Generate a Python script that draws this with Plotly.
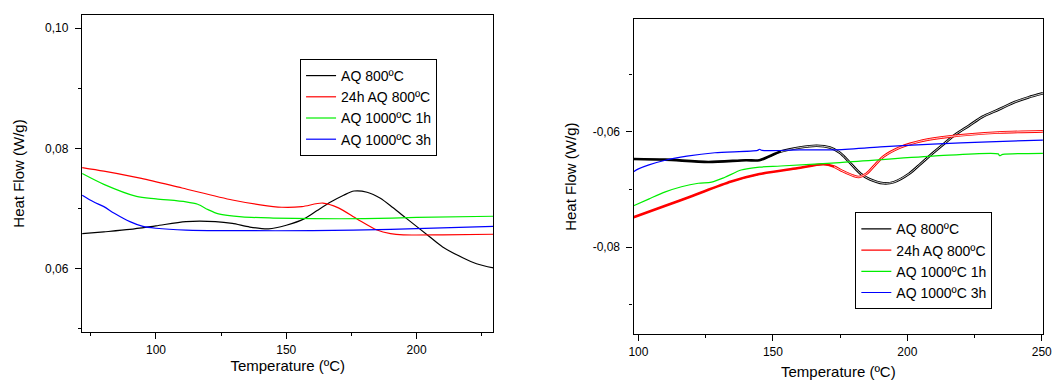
import plotly.graph_objects as go

# ---------------- data: left panel ----------------
L_black_T = [71.7, 80, 90, 100, 111.5, 122.8, 129.3, 136, 143.2, 150, 157, 162, 167.2, 172, 176, 181,
             186.1, 191, 196.2, 205, 210, 217.7, 223, 229.5]
L_black_V = [0.0658, 0.0661, 0.0665, 0.0671, 0.0678, 0.0678, 0.0675, 0.0669, 0.0666, 0.0672, 0.0683,
             0.0697, 0.0711, 0.0722, 0.0729, 0.0727, 0.0717, 0.0701, 0.0683, 0.0653, 0.0636, 0.0618,
             0.0608, 0.0601]

L_red_T = [71.7, 80, 94.4, 110, 129.3, 140, 148.3, 156, 164, 170, 177.3, 184.8, 190, 194.9, 210, 229.5]
L_red_V = [0.0768, 0.0762, 0.0750, 0.0734, 0.0714, 0.0706, 0.0702, 0.0703, 0.0709, 0.0701, 0.0682,
           0.0664, 0.0658, 0.0656, 0.0656, 0.0657]

L_green_T = [71.7, 80, 92.5, 100, 111.5, 116, 120, 124, 133, 145, 160, 180, 200, 229.5]
L_green_V = [0.0758, 0.0740, 0.0720, 0.0716, 0.0711, 0.0707, 0.0698, 0.0691, 0.0686, 0.0684, 0.0683,
             0.0683, 0.0685, 0.0687]

L_blue_T = [71.7, 76, 80, 84, 90, 95, 100, 111.5, 130, 160, 190, 229.5]
L_blue_V = [0.0722, 0.0711, 0.0703, 0.0692, 0.0678, 0.0670, 0.0667, 0.0664, 0.0663, 0.0663, 0.0665, 0.0670]

# ---------------- data: right panel ----------------
R_black_T = [98.2, 110, 126, 140, 145, 152.9, 160, 166.3, 171.2, 174.9, 178, 182.5, 186, 191, 195,
             200.8, 205, 209.4, 214, 218, 223, 227.8, 234, 240, 245, 250.4]
R_black_V = [-0.0647, -0.0648, -0.0652, -0.0649, -0.0649, -0.0634, -0.0627, -0.0624, -0.0627, -0.0636,
             -0.0650, -0.0672, -0.0682, -0.0689, -0.0687, -0.0672, -0.0655, -0.0637, -0.0619, -0.0604,
             -0.0589, -0.0574, -0.0561, -0.0548, -0.0540, -0.0533]

R_red_T = [98.2, 110, 120, 134.5, 145, 159, 168.8, 172.7, 176, 180, 182, 184.9, 188, 191, 197.2, 205.7,
           215.5, 233.9, 250.4]
R_red_V = [-0.0748, -0.0728, -0.0711, -0.0686, -0.0673, -0.0663, -0.0656, -0.0660, -0.0668, -0.0676,
           -0.0678, -0.0672, -0.0657, -0.0643, -0.0627, -0.0615, -0.0608, -0.0601, -0.0599]

R_green_T = [98.2, 104, 110, 116, 122.3, 127.2, 132, 138.2, 145, 152.9, 174.9, 209.4, 233.8, 234.3,
             235.5, 250.4]
R_green_V = [-0.0728, -0.0716, -0.0704, -0.0695, -0.0689, -0.0687, -0.0679, -0.0666, -0.0661, -0.0659,
             -0.0653, -0.0642, -0.0638, -0.0641, -0.0639, -0.0637]

R_blue_T = [98.2, 100, 103.9, 110, 118, 128.4, 144.3, 145, 146, 160, 172.7, 190, 209.4, 230.2, 250.4]
R_blue_V = [-0.0669, -0.0664, -0.0657, -0.0649, -0.0642, -0.0636, -0.0632, -0.0630, -0.0632, -0.0631,
            -0.0631, -0.0626, -0.0621, -0.0617, -0.0614]

series_names = ["AQ 800ºC", "24h AQ 800ºC", "AQ 1000ºC 1h", "AQ 1000ºC 3h"]
series_colors = ["#000000", "#ff0000", "#00ee00", "#0000ff"]

L_ytickvals = [0.06, 0.08, 0.10]
L_yticktext = ["0,06", "0,08", "0,10"]
R_ytickvals = [-0.08, -0.06]
R_yticktext = ["-0,08", "-0,06"]
L_xtickvals = [100, 150, 200]
R_xtickvals = [100, 150, 200, 250]

FONT = "Liberation Sans, Arial, sans-serif"
SPL = dict(shape="spline", smoothing=0.8)

fig = go.Figure()

left = [(L_black_T, L_black_V), (L_red_T, L_red_V), (L_green_T, L_green_V), (L_blue_T, L_blue_V)]
right = [(R_black_T, R_black_V), (R_red_T, R_red_V), (R_green_T, R_green_V), (R_blue_T, R_blue_V)]

for (t, v), name, col in zip(left, series_names, series_colors):
    fig.add_trace(go.Scatter(x=t, y=v, mode="lines", name=name, line=dict(color=col, width=1.2, **SPL),
                             xaxis="x", yaxis="y", legend="legend"))

# right panel: black and red were recorded twice (double trace look)
split_T = [150, 172]
for i, ((t, v), name, col) in enumerate(zip(right, series_names, series_colors)):
    if i < 2:
        fig.add_trace(go.Scatter(x=t, y=v, mode="lines", showlegend=False, hoverinfo="skip",
                                 line=dict(color=col, width=2.6, **SPL), xaxis="x2", yaxis="y2"))
        tt = [a for a in t if a >= split_T[i]]
        vv = [b for a, b in zip(t, v) if a >= split_T[i]]
        fig.add_trace(go.Scatter(x=tt, y=vv, mode="lines", showlegend=False, hoverinfo="skip",
                                 line=dict(color="white", width=0.8, **SPL), xaxis="x2", yaxis="y2"))
        ts = [a for a in t if a <= split_T[i] + 3]
        vs = [b for a, b in zip(t, v) if a <= split_T[i] + 3]
        fig.add_trace(go.Scatter(x=ts, y=vs, mode="lines", name=name, line=dict(color=col, width=1.2, **SPL),
                                 xaxis="x2", yaxis="y2", legend="legend2"))
    else:
        fig.add_trace(go.Scatter(x=t, y=v, mode="lines", name=name, line=dict(color=col, width=1.2, **SPL),
                                 xaxis="x2", yaxis="y2", legend="legend2"))

ax_common = dict(showline=True, linecolor="black", linewidth=1.3, mirror=True, showgrid=False, zeroline=False,
                 ticks="outside", ticklen=6, tickwidth=1.2, tickcolor="black",
                 tickfont=dict(family=FONT, size=12, color="black"))
title_font = dict(family=FONT, size=15, color="black")

L_xrange = [71.6, 229.5]
L_yrange = [0.04943, 0.1022]
R_xrange = [98.2, 250.5]
R_yrange = [-0.0951, -0.0404]

Ldx = [78 / 1062, 495 / 1062]
Ldy = [1 - 332 / 380, 1 - 15 / 380]
Rdx = [637 / 1062, 1052 / 1062]
Rdy = [1 - 334.3 / 380, 1 - 19 / 380]

minor_x = dict(dtick=25, ticks="outside", ticklen=3, tickcolor="black", tickwidth=1.2)
minor_y = dict(dtick=0.01, ticks="outside", ticklen=3, tickcolor="black", tickwidth=1.2)
minor_xi = dict(dtick=25, ticks="inside", ticklen=3, tickcolor="black", tickwidth=1.2)
minor_yi = dict(dtick=0.01, ticks="inside", ticklen=3, tickcolor="black", tickwidth=1.2)

mirror_common = dict(ticks="inside", ticklen=6, tickwidth=1.2, tickcolor="black", showticklabels=False,
                     showline=False, showgrid=False, zeroline=False)

fig.update_layout(
    width=1062, height=380, margin=dict(l=0, r=0, t=0, b=0),
    paper_bgcolor="white", plot_bgcolor="white",
    font=dict(family=FONT, color="black"),
    xaxis=dict(**ax_common, domain=Ldx, anchor="y", range=L_xrange, tickvals=L_xtickvals, minor=minor_x,
               title=dict(text="Temperature (ºC)", font=title_font, standoff=3)),
    yaxis=dict(**ax_common, domain=Ldy, anchor="x", range=L_yrange, tickvals=L_ytickvals, ticktext=L_yticktext,
               minor=minor_y, ticklabelstandoff=4,
               title=dict(text="Heat Flow (W/g)", font=title_font, standoff=16)),
    xaxis2=dict(**ax_common, domain=Rdx, anchor="y2", range=R_xrange, tickvals=R_xtickvals, minor=minor_x,
                title=dict(text="Temperature (ºC)", font=title_font, standoff=8)),
    yaxis2=dict(**ax_common, domain=Rdy, anchor="x2", range=R_yrange, tickvals=R_ytickvals, ticktext=R_yticktext,
                minor=minor_y, ticklabelstandoff=4,
                title=dict(text="Heat Flow (W/g)", font=title_font, standoff=12)),
    # inward mirror ticks (top / right)
    xaxis3=dict(overlaying="x", side="top", anchor="y", range=L_xrange, tickvals=L_xtickvals,
                minor=minor_xi, **mirror_common),
    yaxis3=dict(overlaying="y", side="right", anchor="x", range=L_yrange, tickvals=L_ytickvals,
                minor=minor_yi, **mirror_common),
    xaxis4=dict(overlaying="x2", side="top", anchor="y2", range=R_xrange, tickvals=R_xtickvals,
                minor=minor_xi, **mirror_common),
    yaxis4=dict(overlaying="y2", side="right", anchor="x2", range=R_yrange, tickvals=R_ytickvals,
                minor=minor_yi, **mirror_common),
    legend=dict(x=299 / 1062, y=1 - 59 / 380, xanchor="left", yanchor="top", bgcolor="white",
                bordercolor="black", borderwidth=1, font=dict(family=FONT, size=14, color="black"),
                tracegroupgap=0),
    legend2=dict(x=861.7 / 1062, y=1 - 212.3 / 380, xanchor="left", yanchor="top", bgcolor="white",
                 bordercolor="black", borderwidth=1, font=dict(family=FONT, size=14, color="black"),
                 tracegroupgap=0),
    showlegend=True,
)

fig.write_html("out.html")
